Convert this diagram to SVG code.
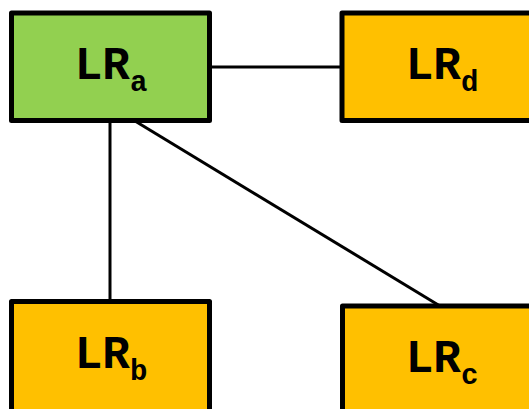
<svg xmlns="http://www.w3.org/2000/svg" width="529" height="409" viewBox="0 0 529 409">
<style>
.box{stroke:#000;stroke-width:5;stroke-linejoin:round}
.g{fill:#92D050}
.o{fill:#FFC000}
.lbl{font-family:"Liberation Mono","Courier New",monospace;font-weight:bold;font-size:46px;fill:#000;text-anchor:middle}
.sub{font-size:29px}
.con{stroke:#000;stroke-width:3;fill:none}
</style>
<rect width="529" height="409" fill="#fff"/>
<g id="connectors">
<line class="con" x1="210" y1="67" x2="342" y2="67"/>
<line class="con" x1="110" y1="121" x2="110" y2="301"/>
<line class="con" x1="135" y1="121" x2="440" y2="306"/>
</g>
<g id="LRa">
<rect class="box g" x="11.5" y="13" width="198" height="107.5"/>
<text class="lbl" x="111" y="79">LR<tspan class="sub" dy="12">a</tspan></text>
</g>
<g id="LRd">
<rect class="box o" x="342" y="13" width="198" height="107.5"/>
<text class="lbl" x="442" y="79">LR<tspan class="sub" dy="12">d</tspan></text>
</g>
<g id="LRb">
<rect class="box o" x="11.5" y="301.5" width="198" height="120"/>
<text class="lbl" x="111" y="368">LR<tspan class="sub" dy="12">b</tspan></text>
</g>
<g id="LRc">
<rect class="box o" x="342.5" y="306" width="198" height="120"/>
<text class="lbl" x="442" y="372">LR<tspan class="sub" dy="12">c</tspan></text>
</g>
</svg>
